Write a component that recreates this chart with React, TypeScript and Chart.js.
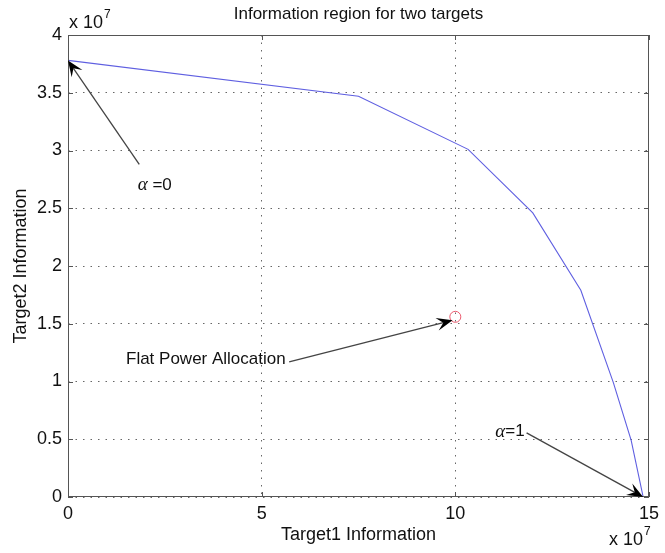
import React, { useEffect, useRef } from 'react';
import { Chart, registerables } from 'chart.js';

Chart.register(...registerables);

// Curve: information region boundary (units of 1e7)
const curveX = [0, 7.5, 10.33, 12.0, 13.24, 14.08, 14.54, 14.85];
const curveY = [3.78, 3.47, 3.01, 2.46, 1.79, 0.99, 0.49, 0];
// Flat power allocation point
const flatX = [10];
const flatY = [1.56];
// Axis ticks
const xTicks = [0, 5, 10, 15];
const yTicks = [0, 0.5, 1, 1.5, 2, 2.5, 3, 3.5, 4];
// Texts
const titleText = 'Information region for two targets';
const xTitle = 'Target1 Information';
const yTitle = 'Target2 Information';
const exponentBase = 'x 10';
const exponentPower = '7';
// Annotations (data coordinates); label parts: [greek prefix, rest]
const arrowGreek = ['α', '', 'α'];
const arrowLabels = [' =0', 'Flat Power Allocation', '=1'];
const arrowTailX = [1.84, 5.71, 11.84];
const arrowTailY = [2.88, 1.17, 0.555];
const arrowTipX = [0, 9.93, 14.85];
const arrowTipY = [3.78, 1.53, 0];
const labelX = [1.8, 5.62, 11.79];
const labelY = [2.70, 1.19, 0.565];
const labelAlign = ['left', 'right', 'right'];

const FONT = '"Liberation Sans", Arial, sans-serif';
const GREEK = '"Liberation Serif", "DejaVu Serif", serif';

const decorPlugin = {
  id: 'decor',
  afterDatasetsDraw(chart: any) {
    const { ctx, chartArea: a, scales } = chart;
    const xs = scales.x;
    const ys = scales.y;
    ctx.save();
    ctx.setLineDash([]);
    // inward tick marks
    ctx.strokeStyle = '#555';
    ctx.lineWidth = 1;
    const T = 5;
    ctx.beginPath();
    for (const v of xTicks) {
      const p = Math.round(xs.getPixelForValue(v)) + 0.5;
      ctx.moveTo(p, a.bottom);
      ctx.lineTo(p, a.bottom - T);
      ctx.moveTo(p, a.top);
      ctx.lineTo(p, a.top + T);
    }
    for (const v of yTicks) {
      const p = Math.round(ys.getPixelForValue(v)) + 0.5;
      ctx.moveTo(a.left, p);
      ctx.lineTo(a.left + T, p);
      ctx.moveTo(a.right, p);
      ctx.lineTo(a.right - T, p);
    }
    ctx.stroke();
    // box
    ctx.strokeRect(Math.round(a.left) + 0.5, Math.round(a.top) + 0.5, Math.round(a.width) - 1, Math.round(a.height) - 1);

    // arrows
    for (let i = 0; i < arrowLabels.length; i++) {
      const tx = xs.getPixelForValue(arrowTailX[i]);
      const ty = ys.getPixelForValue(arrowTailY[i]);
      const hx = xs.getPixelForValue(arrowTipX[i]);
      const hy = ys.getPixelForValue(arrowTipY[i]);
      const dx = hx - tx;
      const dy = hy - ty;
      const len = Math.hypot(dx, dy);
      const ux = dx / len;
      const uy = dy / len;
      const px = -uy;
      const py = ux;
      const L = 16;
      const W = 6.5;
      ctx.strokeStyle = '#444';
      ctx.lineWidth = 1.3;
      ctx.beginPath();
      ctx.moveTo(tx, ty);
      ctx.lineTo(hx - ux * L * 0.6, hy - uy * L * 0.6);
      ctx.stroke();
      ctx.fillStyle = '#000';
      ctx.beginPath();
      ctx.moveTo(hx, hy);
      ctx.lineTo(hx - ux * L + px * W, hy - uy * L + py * W);
      ctx.lineTo(hx - ux * L * 0.6, hy - uy * L * 0.6);
      ctx.lineTo(hx - ux * L - px * W, hy - uy * L - py * W);
      ctx.closePath();
      ctx.fill();

      // label (greek prefix in italic serif + rest)
      ctx.fillStyle = '#111';
      ctx.textBaseline = 'middle';
      ctx.textAlign = 'left';
      const gFont = `italic 19px ${GREEK}`;
      const rFont = `17px ${FONT}`;
      ctx.font = gFont;
      const gw = arrowGreek[i] ? ctx.measureText(arrowGreek[i]).width : 0;
      ctx.font = rFont;
      const rw = ctx.measureText(arrowLabels[i]).width;
      const total = gw + rw;
      let lx = xs.getPixelForValue(labelX[i]);
      if (labelAlign[i] === 'right') lx -= total;
      else if (labelAlign[i] === 'center') lx -= total / 2;
      const ly = ys.getPixelForValue(labelY[i]);
      if (arrowGreek[i]) {
        ctx.font = gFont;
        ctx.fillText(arrowGreek[i], lx, ly);
      }
      ctx.font = rFont;
      ctx.fillText(arrowLabels[i], lx + gw, ly);
    }

    // title
    ctx.fillStyle = '#111';
    ctx.font = `17px ${FONT}`;
    ctx.textAlign = 'center';
    ctx.textBaseline = 'middle';
    ctx.fillText(titleText, (a.left + a.right) / 2, 14);

    // exponent labels
    const drawExp = (x: number, y: number) => {
      ctx.textAlign = 'left';
      ctx.textBaseline = 'middle';
      ctx.font = `18px ${FONT}`;
      ctx.fillText(exponentBase, x, y);
      const w = ctx.measureText(exponentBase).width;
      ctx.font = `12px ${FONT}`;
      ctx.fillText(exponentPower, x + w + 1, y - 8);
    };
    drawExp(a.left + 1, 23);
    drawExp(a.right - 40, 540);
    ctx.restore();
  },
};

export default function App() {
  const ref = useRef<HTMLCanvasElement | null>(null);
  useEffect(() => {
    if (!ref.current) return;
    const tickFont = { family: FONT, size: 18 };
    const titleFont = { family: FONT, size: 18 };
    const chart = new Chart(ref.current, {
      type: 'scatter',
      data: {
        datasets: [
          {
            data: curveX.map((x, i) => ({ x, y: curveY[i] })),
            showLine: true,
            borderColor: 'rgb(95,95,225)',
            borderWidth: 1.1,
            pointRadius: 0,
            fill: false,
            tension: 0,
          },
          {
            data: flatX.map((x, i) => ({ x, y: flatY[i] })),
            showLine: false,
            pointRadius: 5.5,
            pointStyle: 'circle',
            borderColor: 'rgb(235,90,110)',
            backgroundColor: 'rgba(0,0,0,0)',
            borderWidth: 1,
          },
        ],
      },
      options: {
        animation: false,
        responsive: false,
        devicePixelRatio: 1,
        layout: { padding: { top: 35, right: 9, bottom: 0, left: 0 } },
        plugins: { legend: { display: false }, tooltip: { enabled: false }, title: { display: false } },
        scales: {
          x: {
            type: 'linear',
            min: 0,
            max: 15,
            afterBuildTicks: (s: any) => {
              s.ticks = xTicks.map((v) => ({ value: v }));
            },
            afterFit: (s: any) => {
              s.height = 56;
            },
            grid: { color: '#666', lineWidth: 1, drawTicks: false },
            border: { display: false, dash: [1.5, 6] },
            ticks: { font: tickFont, color: '#111', padding: 6, maxRotation: 0, autoSkip: false, callback: (v: any) => String(v) },
            title: { display: true, text: xTitle, font: titleFont, color: '#111', padding: { top: 0, bottom: 7 } },
          },
          y: {
            type: 'linear',
            min: 0,
            max: 4,
            afterBuildTicks: (s: any) => {
              s.ticks = yTicks.map((v) => ({ value: v }));
            },
            afterFit: (s: any) => {
              s.width = 68;
            },
            grid: { color: '#666', lineWidth: 1, drawTicks: false },
            border: { display: false, dash: [1.5, 6] },
            ticks: { font: tickFont, color: '#111', padding: 6, autoSkip: false, callback: (v: any) => String(v) },
            title: { display: true, text: yTitle, font: titleFont, color: '#111', padding: { top: 10, bottom: 0 } },
          },
        },
      },
      plugins: [decorPlugin],
    });
    return () => chart.destroy();
  }, []);
  return (
    <div style={{ position: 'fixed', left: 0, top: 0, width: 665, height: 553, background: '#fff' }}>
      <canvas ref={ref} width={665} height={553} style={{ width: 665, height: 553, display: 'block' }} />
    </div>
  );
}
